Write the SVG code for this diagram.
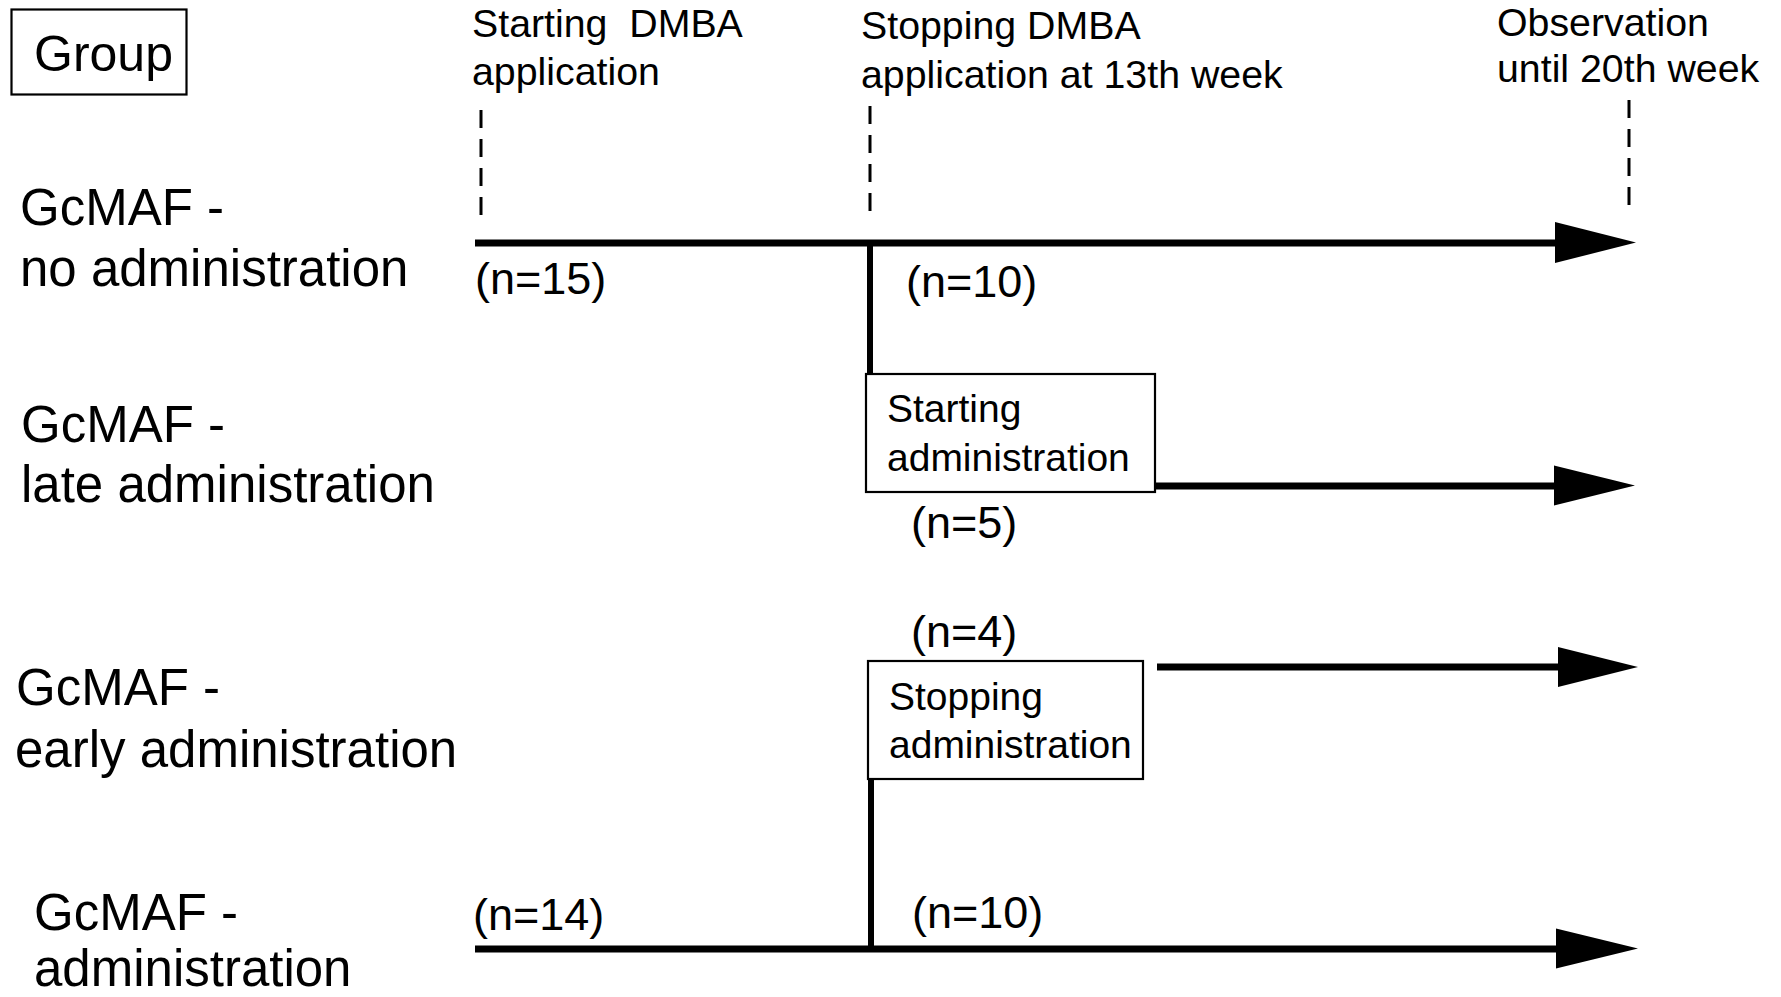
<svg xmlns="http://www.w3.org/2000/svg" width="1781" height="997" viewBox="0 0 1781 997">
<defs>
<style>
text{font-family:"Liberation Sans",Arial,sans-serif;fill:#000;white-space:pre}
.grp{font-size:51px}
.hdr{font-size:39.3px}
.box{font-size:39px}
.n{font-size:45px}
.frame{fill:#fff;stroke:#000;stroke-width:2.2}
.dash{stroke:#000;stroke-width:3;stroke-dasharray:18 11;fill:none}
.thick{stroke:#000;stroke-width:7;fill:none}
.vert{stroke:#000;stroke-width:6;fill:none}
</style>
</defs>
<rect width="1781" height="997" fill="#fff"/>

<g id="group-header">
<rect class="frame" x="11.5" y="9.5" width="175" height="85"/>
<text class="grp" x="34" y="71" style="font-size:50px">Group</text>
</g>

<g id="timepoints">
<text class="hdr" x="472" y="37" xml:space="preserve">Starting  DMBA</text>
<text class="hdr" x="472" y="85">application</text>
<text class="hdr" x="861" y="39">Stopping DMBA</text>
<text class="hdr" x="861" y="88">application at 13th week</text>
<text class="hdr" x="1497" y="36">Observation</text>
<text class="hdr" x="1497" y="82">until 20th week</text>
</g>

<g id="group-labels">
<text class="grp" x="20" y="225">GcMAF -</text>
<text class="grp" x="20" y="286">no administration</text>
<text class="grp" x="21" y="442">GcMAF -</text>
<text class="grp" x="21" y="502">late administration</text>
<text class="grp" x="16" y="705">GcMAF -</text>
<text class="grp" x="15" y="767">early administration</text>
<text class="grp" x="34" y="930">GcMAF -</text>
<text class="grp" x="34" y="986">administration</text>
</g>

<g id="connectors">
<line class="dash" x1="481" y1="110" x2="481" y2="215"/>
<line class="dash" x1="870" y1="106" x2="870" y2="212"/>
<line class="dash" x1="1629" y1="100" x2="1629" y2="205"/>
<line class="thick" x1="475" y1="243" x2="1560" y2="243"/>
<polygon points="1555,222 1636,242.5 1555,263" fill="#000"/>
<line class="vert" x1="870" y1="240" x2="870" y2="374"/>
<line class="thick" x1="1155" y1="486" x2="1560" y2="486"/>
<polygon points="1554,465.5 1635,485.5 1554,505.5" fill="#000"/>
<line class="thick" x1="1157" y1="667" x2="1562" y2="667"/>
<polygon points="1558,647 1638,667 1558,687" fill="#000"/>
<line class="vert" x1="871" y1="778" x2="871" y2="952"/>
<line class="thick" x1="475" y1="949" x2="1560" y2="949"/>
<polygon points="1556,928.5 1638,948.5 1556,968.5" fill="#000"/>
</g>

<g id="counts">
<text class="n" x="475" y="294">(n=15)</text>
<text class="n" x="906" y="297">(n=10)</text>
<text class="n" x="911" y="538">(n=5)</text>
<text class="n" x="911" y="647">(n=4)</text>
<text class="n" x="473" y="930">(n=14)</text>
<text class="n" x="912" y="928">(n=10)</text>
</g>

<g id="start-admin">
<rect class="frame" x="866" y="374" width="289" height="118"/>
<text class="box" x="887" y="422">Starting</text>
<text class="box" x="887" y="471">administration</text>
</g>

<g id="stop-admin">
<rect class="frame" x="868" y="661" width="275" height="118"/>
<text class="box" x="889" y="710">Stopping</text>
<text class="box" x="889" y="758">administration</text>
</g>
</svg>
